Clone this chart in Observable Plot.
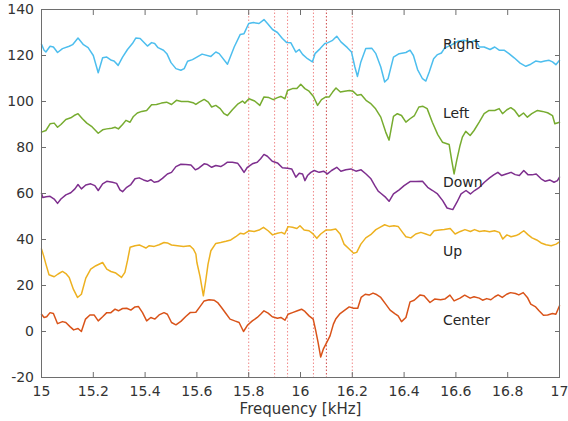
<!DOCTYPE html>
<html><head><meta charset="utf-8">
<script src="https://cdn.jsdelivr.net/npm/d3@7"></script>
<script src="https://cdn.jsdelivr.net/npm/@observablehq/plot@0.6"></script>
<style>html,body{margin:0;padding:0;background:#fff;} #chart svg{display:block}</style>
</head><body><div id="chart"></div>
<script>
const right = [[15.0,124.9],[15.01,122.3],[15.017,121.5],[15.033,124],[15.046,123.7],[15.062,121.3],[15.081,123],[15.107,124],[15.12,124.7],[15.141,127.6],[15.162,124.7],[15.18,123.4],[15.2,120],[15.219,112.5],[15.236,119],[15.252,119.3],[15.27,117.9],[15.28,117.6],[15.296,115.7],[15.313,119.3],[15.332,122.6],[15.351,125.2],[15.364,127.6],[15.381,127.4],[15.394,125.9],[15.409,124.1],[15.425,125.6],[15.437,125.2],[15.45,123.4],[15.471,122.3],[15.484,120.8],[15.5,116.9],[15.519,114.3],[15.538,113.6],[15.551,114.3],[15.564,117.5],[15.583,118.2],[15.62,120.6],[15.654,119.6],[15.673,121.5],[15.686,120.8],[15.718,116.2],[15.744,123.7],[15.767,129.1],[15.782,129.5],[15.8,133.9],[15.818,134.3],[15.84,133.9],[15.859,135.6],[15.875,133.6],[15.892,131.3],[15.911,130],[15.93,127.4],[15.947,125.6],[15.963,125.5],[15.982,121.5],[15.995,122.6],[16.008,120.5],[16.027,118.6],[16.046,117.2],[16.056,120.8],[16.076,123],[16.094,125.2],[16.104,125.5],[16.124,126.6],[16.14,128.4],[16.156,125.9],[16.181,123.4],[16.197,121.5],[16.21,115],[16.22,110.9],[16.233,117.2],[16.252,123],[16.275,123.2],[16.291,120.8],[16.31,115],[16.325,108.5],[16.338,109.9],[16.359,119.3],[16.381,120.8],[16.407,121.3],[16.423,122.3],[16.436,120],[16.452,113.9],[16.471,109.9],[16.484,108.9],[16.497,112.8],[16.514,118.6],[16.529,120.4],[16.544,121.1],[16.557,123.3],[16.58,124.4],[16.608,126.2],[16.631,126.6],[16.658,125.9],[16.677,126.6],[16.69,123.7],[16.709,123.7],[16.732,122.6],[16.75,123.7],[16.767,122.3],[16.786,122.3],[16.805,120.8],[16.825,119],[16.848,116.7],[16.87,115.3],[16.889,116.2],[16.908,117.6],[16.928,117.2],[16.943,117.6],[16.96,117.9],[16.973,117.2],[16.986,116],[17.0,117.9]];
const left = [[15.0,86.7],[15.017,87.4],[15.033,90.3],[15.049,90.6],[15.062,88.8],[15.075,90],[15.094,92.2],[15.113,92.9],[15.126,93.9],[15.141,94.7],[15.158,92.5],[15.175,90.6],[15.193,89.2],[15.206,87.7],[15.219,86.2],[15.236,87.7],[15.252,88.1],[15.271,88.4],[15.284,88.8],[15.297,88.1],[15.313,90],[15.326,91.8],[15.342,91],[15.355,93.5],[15.37,95],[15.387,95.7],[15.406,96.1],[15.425,98.6],[15.444,98.7],[15.463,99.3],[15.483,99.7],[15.502,98.7],[15.521,100.5],[15.54,100],[15.566,100],[15.585,99.5],[15.596,98.7],[15.609,99.7],[15.628,100.9],[15.644,99.7],[15.657,97.6],[15.673,98.3],[15.69,96.9],[15.705,94.7],[15.718,93.9],[15.737,96.4],[15.759,99],[15.776,100.2],[15.785,99.3],[15.801,101.2],[15.823,100.2],[15.843,98.3],[15.859,102],[15.878,101.7],[15.895,100.8],[15.911,101.7],[15.924,102.2],[15.94,101.2],[15.95,104.8],[15.969,105.6],[15.986,105.6],[16.001,107.5],[16.017,105.6],[16.033,104.5],[16.05,102.2],[16.066,98.3],[16.081,100.8],[16.098,102],[16.111,102],[16.124,104.1],[16.137,105.9],[16.154,104.1],[16.17,104.5],[16.189,104.8],[16.202,104.5],[16.219,102.7],[16.234,103],[16.253,100.5],[16.27,99.2],[16.29,96.8],[16.31,93.2],[16.329,86.7],[16.342,83.2],[16.359,93.5],[16.374,94.7],[16.39,93.9],[16.407,91],[16.423,92.5],[16.44,93.9],[16.457,97.6],[16.473,97.9],[16.489,96.9],[16.509,91],[16.53,85.6],[16.548,82.3],[16.574,81.3],[16.584,74.3],[16.593,68.5],[16.603,74.3],[16.616,80.9],[16.625,84.5],[16.638,87],[16.655,85.2],[16.67,87.4],[16.69,91],[16.709,94.7],[16.728,96.1],[16.75,96.1],[16.767,96.9],[16.78,94.7],[16.797,96.4],[16.812,97.3],[16.827,96.1],[16.844,93.5],[16.861,95],[16.876,93.2],[16.893,94.7],[16.915,96.1],[16.934,95.7],[16.954,95.1],[16.973,93.9],[16.982,90.3],[17.0,91]];
const down = [[15.0,60.1],[15.005,58.3],[15.018,58.6],[15.033,58.8],[15.049,57.6],[15.062,55.7],[15.075,57.6],[15.094,59.4],[15.113,60.3],[15.129,62],[15.141,63.9],[15.154,62],[15.171,63.7],[15.19,64.2],[15.206,63.4],[15.219,61.3],[15.236,64.2],[15.252,65.3],[15.274,64.9],[15.29,64.4],[15.303,61.6],[15.313,60.8],[15.329,62.7],[15.345,63.9],[15.361,66.4],[15.377,66.8],[15.394,65.9],[15.409,65.3],[15.422,66],[15.435,64.9],[15.45,65.2],[15.467,66.6],[15.486,68.5],[15.502,69.2],[15.519,71.7],[15.538,72.7],[15.557,72.6],[15.577,72.4],[15.594,70.3],[15.607,71],[15.628,72.9],[15.641,72.6],[15.657,71.4],[15.673,72.2],[15.692,71.7],[15.705,72.6],[15.718,73.6],[15.737,73.6],[15.757,73.2],[15.769,71.4],[15.782,69.2],[15.795,71.4],[15.814,72.9],[15.833,73.6],[15.846,75.1],[15.859,77],[15.872,76.2],[15.891,74],[15.911,73.3],[15.93,71.2],[15.95,71],[15.966,70.7],[15.982,67.1],[15.995,68.8],[16.008,68.5],[16.017,65.6],[16.027,67.8],[16.04,69.2],[16.053,70],[16.072,69.2],[16.089,69.7],[16.104,68.5],[16.12,70],[16.14,71.4],[16.156,69.7],[16.175,70.3],[16.195,70.7],[16.214,69.7],[16.234,70.3],[16.253,68.5],[16.272,66.4],[16.288,63.2],[16.3,61],[16.31,60.1],[16.329,58.3],[16.342,56.6],[16.359,59.8],[16.381,61.6],[16.4,63.4],[16.423,65.2],[16.445,65.2],[16.471,65.3],[16.491,62.7],[16.51,61.3],[16.529,59.8],[16.549,56.9],[16.566,53.7],[16.588,53],[16.604,56.2],[16.62,59.8],[16.639,61.3],[16.656,59.8],[16.672,61.3],[16.691,62.7],[16.71,64.9],[16.73,66.8],[16.746,68.1],[16.762,69.2],[16.777,67.8],[16.794,68.5],[16.813,69.2],[16.829,68.2],[16.845,67.8],[16.862,70],[16.878,68.2],[16.894,68.1],[16.91,68.5],[16.929,66.4],[16.945,65.3],[16.962,65.9],[16.979,64.9],[16.992,65.6],[17.0,67.1]];
const up = [[15.0,35.9],[15.008,33],[15.017,29.3],[15.029,24.7],[15.049,23.8],[15.064,25],[15.081,26.1],[15.094,25.2],[15.107,23.5],[15.123,18.4],[15.139,14.8],[15.154,16.2],[15.171,23.2],[15.19,27.1],[15.21,28.6],[15.236,30],[15.252,27.1],[15.268,26.1],[15.287,25.4],[15.309,23.5],[15.322,25.7],[15.332,30.8],[15.342,36.6],[15.361,37.3],[15.378,37.6],[15.39,37],[15.403,36.3],[15.416,37.3],[15.435,37],[15.454,37.7],[15.473,38.7],[15.486,38.5],[15.502,37.6],[15.525,37.3],[15.548,37],[15.573,37.3],[15.586,35.9],[15.596,33.7],[15.6,30],[15.612,24],[15.625,15.5],[15.634,22],[15.643,29.3],[15.654,35.1],[15.673,38.3],[15.692,38.7],[15.712,39.2],[15.731,39.8],[15.75,41.2],[15.767,42.7],[15.782,42.4],[15.801,43.8],[15.821,43.5],[15.84,44.1],[15.857,45.3],[15.875,43.8],[15.892,42],[15.911,42.7],[15.927,43.1],[15.939,42.4],[15.952,45.6],[15.969,45.3],[15.986,44.8],[15.998,46],[16.014,44.1],[16.033,43.8],[16.046,42.7],[16.063,40.5],[16.078,42.4],[16.098,44.1],[16.117,44.1],[16.136,44.6],[16.153,42.4],[16.168,38],[16.188,35.9],[16.205,34],[16.217,34.4],[16.233,38],[16.252,40.7],[16.271,42.1],[16.291,44.3],[16.31,45.5],[16.325,46.4],[16.342,45.7],[16.361,46],[16.377,45.7],[16.394,43.1],[16.407,41.2],[16.426,40.7],[16.445,42.4],[16.465,43.1],[16.484,42.4],[16.501,41.7],[16.516,43.8],[16.536,44.1],[16.555,44.3],[16.578,44.8],[16.597,42.4],[16.617,43.5],[16.635,44.3],[16.656,43.5],[16.672,44.3],[16.691,43.5],[16.71,43.8],[16.73,43.4],[16.749,43.8],[16.768,43.1],[16.781,40.2],[16.797,42],[16.813,41.2],[16.832,41.7],[16.845,42.4],[16.862,43.8],[16.878,42.1],[16.894,40.7],[16.912,39.8],[16.929,38.5],[16.948,37.7],[16.968,37.3],[16.987,38],[17.0,39]];
const center = [[15.0,7.5],[15.01,6.1],[15.02,6.4],[15.033,8.2],[15.046,7.8],[15.062,3.4],[15.081,4.3],[15.094,3.9],[15.111,2],[15.124,0.7],[15.141,1.3],[15.154,0],[15.17,5.4],[15.187,7.2],[15.203,7.2],[15.219,4.6],[15.236,6.4],[15.252,8.2],[15.268,8.2],[15.284,9.7],[15.297,9],[15.313,10],[15.329,10.1],[15.345,9.3],[15.361,10.7],[15.374,10.9],[15.39,8.2],[15.406,4.6],[15.422,6.1],[15.438,5.4],[15.454,7.2],[15.473,8.2],[15.486,7.5],[15.502,3.9],[15.519,2.9],[15.538,4.4],[15.557,6.5],[15.575,8.3],[15.596,8.4],[15.612,10.8],[15.628,13.3],[15.647,13.8],[15.666,13.6],[15.68,12.6],[15.695,10.4],[15.712,7.8],[15.728,5.4],[15.746,4.6],[15.763,3.9],[15.78,0],[15.795,2.7],[15.814,4.6],[15.833,6.1],[15.846,7.5],[15.859,9],[15.875,8],[15.891,6.4],[15.911,5.8],[15.924,6.1],[15.94,4.9],[15.952,7.5],[15.969,8.2],[15.988,9],[16.004,9.7],[16.017,8.7],[16.033,6.8],[16.049,5.4],[16.059,0.3],[16.068,-4.8],[16.078,-11.1],[16.088,-7.7],[16.101,-4.8],[16.114,-1.9],[16.127,3.2],[16.136,5.4],[16.153,7.8],[16.171,9.3],[16.188,10.7],[16.205,10.1],[16.221,10.1],[16.234,14.8],[16.25,16.2],[16.266,15.9],[16.28,16.7],[16.291,16.2],[16.31,14.8],[16.329,11.9],[16.346,9.3],[16.364,7.8],[16.377,6.8],[16.39,4.3],[16.407,6.1],[16.423,12.9],[16.439,13.6],[16.462,15.9],[16.477,15.5],[16.5,12.6],[16.518,14.1],[16.541,13.8],[16.557,14.1],[16.577,15.8],[16.593,13.3],[16.616,14.5],[16.634,15.8],[16.655,14.5],[16.67,15.1],[16.69,14.5],[16.703,13.6],[16.719,14.3],[16.735,13.8],[16.75,15.1],[16.763,15.9],[16.779,14.8],[16.796,16.2],[16.811,16.9],[16.83,16.5],[16.843,15.9],[16.86,16.9],[16.876,14.8],[16.889,11.9],[16.908,10.7],[16.921,9],[16.938,7.1],[16.954,7.2],[16.973,7.8],[16.986,7.5],[17.0,11.2]];

const seriesNames = ["Right", "Left", "Down", "Up", "Center"];
const seriesColors = ["#4DBEEE", "#77AC30", "#7E2F8E", "#EDB120", "#D95319"];
const labelValues = [125, 95, 65, 35, 5];
const labelFreq = 16.55;
const markerFreqs = [15.8, 15.9, 15.95, 16.05, 16.2];
const markerFreqsDark = [16.1];
const xTicks = [15, 15.2, 15.4, 15.6, 15.8, 16, 16.2, 16.4, 16.6, 16.8, 17];
const yTicks = [-20, 0, 20, 40, 60, 80, 100, 120, 140];
const xTitle = "Frequency [kHz]";

const seriesData = [right, left, down, up, center];
const rows = seriesData.flatMap((arr, i) => arr.map(([f, v]) => ({f, v, s: seriesNames[i]})));
const labelRows = seriesNames.map((s, i) => ({s, f: labelFreq, v: labelValues[i]}));

const axisColor = "#6e6e6e";
const textColor = "#333";
const tl = 5; // inward tick length

const chart = Plot.plot({
  width: 568,
  height: 421,
  marginLeft: 41,
  marginRight: 9,
  marginTop: 9,
  marginBottom: 44,
  style: {fontFamily: "DejaVu Sans", fontSize: "14px", background: "#fff", color: textColor},
  x: {domain: [15, 17], label: null},
  y: {domain: [-20, 140], label: null},
  color: {domain: seriesNames, range: seriesColors},
  marks: [
    Plot.ruleX(markerFreqs, {x: d => d, stroke: "#e83a3a", strokeOpacity: 0.6, strokeWidth: 1, strokeDasharray: "1.5,2"}),
    Plot.ruleX(markerFreqsDark, {x: d => d, stroke: "#c42a2a", strokeOpacity: 0.85, strokeWidth: 1, strokeDasharray: "1.5,2"}),
    Plot.line(rows, {x: "f", y: "v", z: "s", stroke: "s", strokeWidth: 1.5, strokeLinejoin: "round"}),
    Plot.text(labelRows, {x: "f", y: "v", text: "s", textAnchor: "start", fill: "#262626", fontSize: 14, dy: 1}),
    Plot.frame({stroke: axisColor}),
    // inward ticks
    Plot.axisX({ticks: xTicks, anchor: "bottom", tickSize: tl, dy: -tl, stroke: axisColor, fill: "none", label: null}),
    Plot.axisX({ticks: xTicks, anchor: "top", tickSize: tl, dy: tl, stroke: axisColor, fill: "none", label: null}),
    Plot.axisY({ticks: yTicks, anchor: "left", tickSize: tl, dx: tl, stroke: axisColor, fill: "none", label: null}),
    Plot.axisY({ticks: yTicks, anchor: "right", tickSize: tl, dx: -tl, stroke: axisColor, fill: "none", label: null}),
    // tick labels
    Plot.axisX({ticks: xTicks, anchor: "bottom", tickSize: 0, tickPadding: 9, fill: textColor, fontSize: 14, label: null, tickFormat: d => String(d)}),
    Plot.axisY({ticks: yTicks, anchor: "left", tickSize: 0, tickPadding: 7.5, fill: textColor, fontSize: 14, label: null, tickFormat: d => String(d)}),
    Plot.text([xTitle], {frameAnchor: "bottom", dy: 36, text: d => d, fill: textColor, fontSize: 15})
  ]
});
document.getElementById("chart").appendChild(chart);
</script>
</body></html>
